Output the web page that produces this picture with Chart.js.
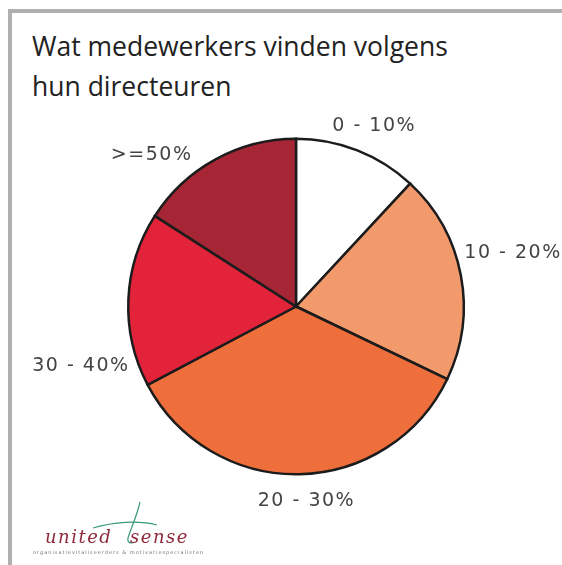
<!DOCTYPE html>
<html>
<head>
<meta charset="utf-8">
<script src="https://cdn.jsdelivr.net/npm/chart.js@4.4.1/dist/chart.umd.min.js"></script>
<style>
  html, body { margin: 0; padding: 0; background: #fff; }
  #wrap { position: relative; width: 562px; height: 565px; overflow: hidden; }
  #frame { position: absolute; left: 8px; top: 9px; width: 560px; height: 570px;
           border-left: 4px solid #b0b0b0; border-top: 4px solid #b0b0b0; }
  #title { position: absolute; left: 32px; top: 26px; font-family: "Open Sans", sans-serif;
           font-size: 26.5px; line-height: 40px; color: #222; }
  #chartBox { position: absolute; left: 0; top: 100px; width: 562px; height: 420px; }
  #logo { position: absolute; left: 33px; top: 498px; width: 180px; height: 62px; }
  .brand { position: absolute; top: 29px; font-family: "DejaVu Serif", serif; font-style: italic;
           font-size: 18px; color: #8e2a3b; letter-spacing: 1.5px; line-height: 20px; }
  #sub { position: absolute; left: 0; top: 51px; font-family: "DejaVu Sans", sans-serif;
         font-size: 5px; color: #777; letter-spacing: 1px; white-space: nowrap; }
</style>
</head>
<body>
<div id="wrap">
  <div id="frame"></div>
  <div id="title">Wat medewerkers vinden volgens<br>hun directeuren</div>
  <div id="chartBox"><canvas id="pie"></canvas></div>
  <div id="logo">
    <svg width="180" height="52" style="position:absolute;left:0;top:0">
      <path d="M107 4 C 104 18, 98 30, 95 40 C 94 45, 98 46, 102 44" stroke="#3a9a7a" stroke-width="1.2" fill="none"/>
      <path d="M60 30 C 80 24, 105 22, 124 27" stroke="#3a9a7a" stroke-width="1.2" fill="none"/>
    </svg>
    <div class="brand" style="left:12px">united</div>
    <div class="brand" style="left:97px">sense</div>
    <div id="sub">organisatievitaliseerders &amp; motivatiespecialisten</div>
  </div>
</div>
<script>
// categorieen en waarden (aandeel in procenten)
const categories = ['0 - 10%', '10 - 20%', '20 - 30%', '30 - 40%', '>=50%'];
const values = [11.9, 20.2, 35.1, 16.8, 15.9];
const colors = ['#ffffff', '#f39a6c', '#ee6e3c', '#e2233a', '#a62635'];
// kleine verschuiving van de labelhoek (graden) en afstand tot de rand, zoals in het origineel
const labelShift = [2, -3, -2, -18, -15];
const labelGap = [3, 6, 14, 6, 6];

const outsideLabels = {
  id: 'outsideLabels',
  afterDraw(chart) {
    const c = chart.ctx;
    const meta = chart.getDatasetMeta(0);
    c.save();
    c.font = '19px "DejaVu Sans", sans-serif';
    c.letterSpacing = '1.5px';
    c.fillStyle = '#444';
    c.textAlign = 'center';
    c.textBaseline = 'middle';
    meta.data.forEach((arc, i) => {
      const a = (arc.startAngle + arc.endAngle) / 2 + labelShift[i] * Math.PI / 180;
      const w = c.measureText(categories[i]).width / 2;
      const h = 10;
      const d = arc.outerRadius + labelGap[i] + w * Math.abs(Math.cos(a)) + h * Math.abs(Math.sin(a));
      c.fillText(categories[i], arc.x + d * Math.cos(a), arc.y + d * Math.sin(a));
    });
    c.restore();
  }
};

new Chart(document.getElementById('pie'), {
  type: 'pie',
  data: {
    labels: categories,
    datasets: [{
      data: values,
      backgroundColor: colors,
      borderColor: '#1c1c1c',
      borderWidth: 2.5,
      borderJoinStyle: 'miter'
    }]
  },
  options: {
    responsive: true,
    maintainAspectRatio: false,
    animation: false,
    layout: { padding: { top: 37, bottom: 44, left: 127, right: 97 } },
    plugins: {
      legend: { display: false },
      tooltip: { enabled: false }
    }
  },
  plugins: [outsideLabels]
});
</script>
</body>
</html>
